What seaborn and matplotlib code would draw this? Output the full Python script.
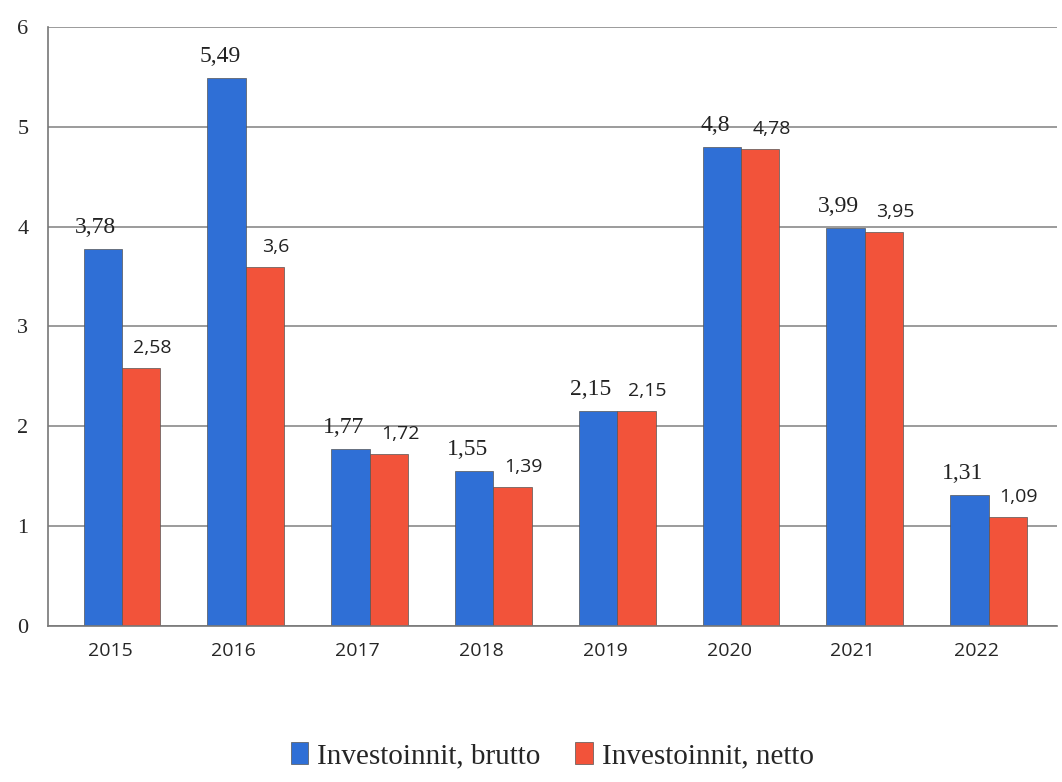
import matplotlib
matplotlib.use("Agg")
import matplotlib.pyplot as plt
import matplotlib.transforms as mtransforms
import seaborn as sns
import pandas as pd

years = ["2015", "2016", "2017", "2018", "2019", "2020", "2021", "2022"]
brutto = [3.78, 5.49, 1.77, 1.55, 2.15, 4.8, 3.99, 1.31]
netto = [2.58, 3.6, 1.72, 1.39, 2.15, 4.78, 3.95, 1.09]
series = ["Investoinnit, brutto", "Investoinnit, netto"]

df = pd.DataFrame({
    "vuosi": years * 2,
    "arvo": brutto + netto,
    "sarja": [series[0]] * len(years) + [series[1]] * len(years),
})

sns.set_style("white")
fig = plt.figure(figsize=(10.62, 7.82), dpi=100)
ax = fig.add_axes([0.045, 0.2, 0.95, 0.765])

palette = {series[0]: "#2f6fd6", series[1]: "#f2533a"}
sns.barplot(data=df, x="vuosi", y="arvo", hue="sarja", palette=palette,
            width=0.62, gap=0, saturation=1, edgecolor="#555555", linewidth=0.5,
            ax=ax)

ax.set_ylim(0, 6)
ax.set_xlim(-0.6, 7.55)
ax.set_yticks(range(7))
ax.yaxis.grid(True, color="#8a8a8a", linewidth=1.2)
ax.set_axisbelow(True)
ax.set_xlabel("")
ax.set_ylabel("")
for s in ["top", "right"]:
    ax.spines[s].set_visible(False)
for s in ["left", "bottom"]:
    ax.spines[s].set_color("#777777")
    ax.spines[s].set_linewidth(1.2)

ax.tick_params(axis="y", labelsize=16, length=0, pad=14)
for t in ax.get_yticklabels():
    t.set_family("Liberation Serif")
ax.tick_params(axis="x", labelsize=14, length=0, pad=12)
shift = mtransforms.ScaledTranslation(-12 / 100, 0, fig.dpi_scale_trans)
for t in ax.get_xticklabels():
    t.set_family("Open Sans")
    t.set_transform(t.get_transform() + shift)

def fmt(v):
    return f"{v:g}".replace(".", ",")

# label styles: brutto serif, netto sans nudged right
styles = [("Liberation Serif", 17, -5), ("Open Sans", 14, 8)]
for cont, (fam, fs, dx) in zip(ax.containers, styles):
    for b in cont:
        h = b.get_height()
        ax.annotate(fmt(h), (b.get_x() + b.get_width() / 2, h),
                    xytext=(dx, 8), textcoords="offset points",
                    ha="center", va="bottom", fontsize=fs, family=fam,
                    color="#222222")

leg = ax.legend(loc="upper center", bbox_to_anchor=(0.5, -0.15), ncol=2,
                frameon=False, handlelength=0.6, handleheight=0.8,
                handletextpad=0.3, columnspacing=1.2,
                prop={"family": "Liberation Serif", "size": 21})

fig.savefig("out.png", dpi=100)
